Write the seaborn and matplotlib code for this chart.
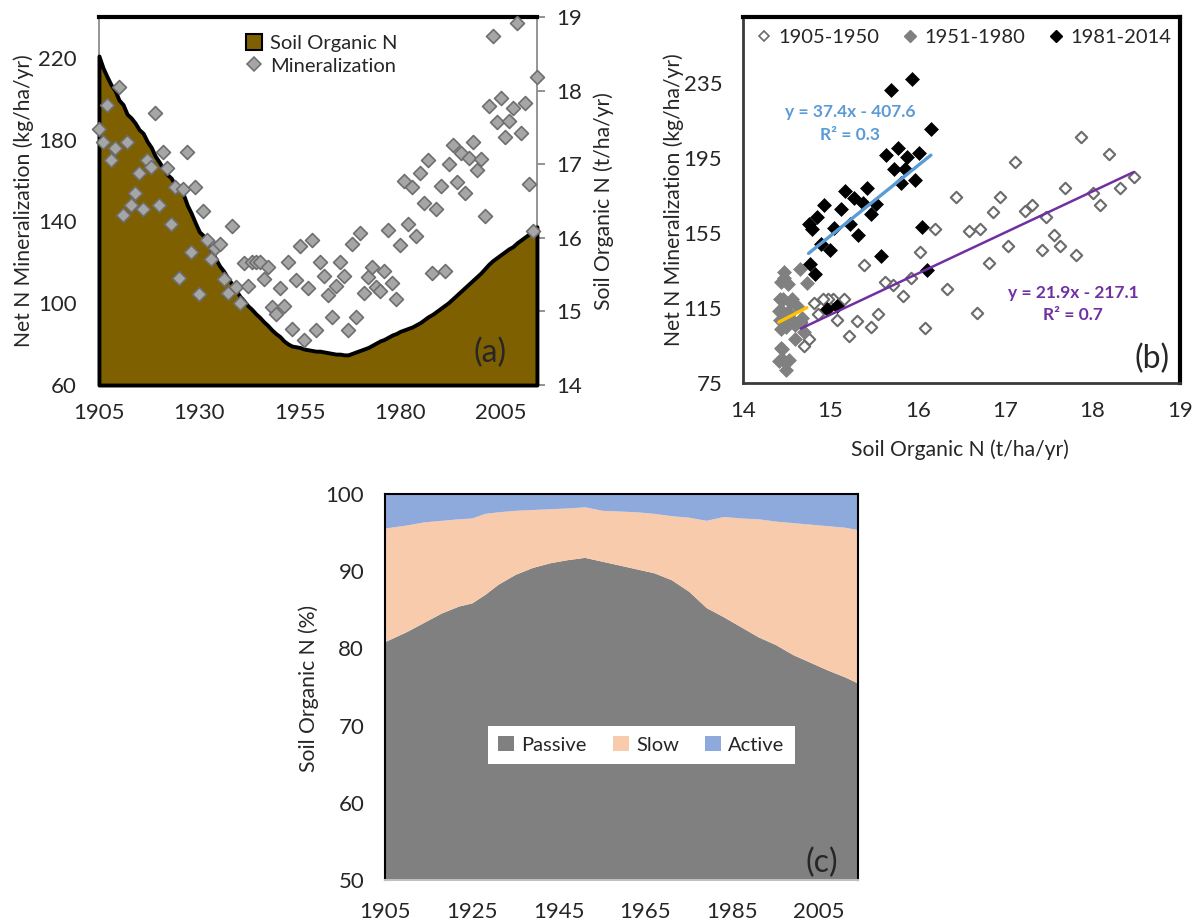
import numpy as np
import pandas as pd
import matplotlib
matplotlib.use("Agg")
import matplotlib.pyplot as plt
import seaborn as sns
from matplotlib.patches import Patch
from matplotlib.lines import Line2D

# ---------------------------------------------------------------- data
years = np.arange(1905, 2015)

# soil organic N stock (t/ha/yr), one value per year 1905-2014
soil_organic_n = [
    18.47, 18.31, 18.19, 18.08, 18.00, 17.87, 17.81, 17.68, 17.63, 17.56,
    17.47, 17.42, 17.31, 17.23, 17.11, 17.03, 16.94, 16.86, 16.81, 16.71,
    16.68, 16.59, 16.44, 16.33, 16.20, 16.08, 16.03, 15.92, 15.83, 15.72,
    15.62, 15.55, 15.46, 15.38, 15.30, 15.21, 15.15, 15.08, 15.03, 14.97,
    14.92, 14.86, 14.81, 14.75, 14.70, 14.66, 14.60, 14.56, 14.53, 14.52,
    14.51, 14.49, 14.48, 14.47, 14.46, 14.46, 14.45, 14.44, 14.43, 14.42,
    14.42, 14.41, 14.41, 14.43, 14.45, 14.47, 14.49, 14.51, 14.54, 14.57,
    14.60, 14.62, 14.65, 14.68, 14.70, 14.73, 14.75, 14.77, 14.79, 14.82,
    14.85, 14.89, 14.93, 14.96, 15.00, 15.04, 15.08, 15.12, 15.17, 15.22,
    15.27, 15.32, 15.37, 15.42, 15.47, 15.52, 15.58, 15.64, 15.69, 15.73,
    15.77, 15.81, 15.85, 15.88, 15.93, 15.97, 16.01, 16.05, 16.10, 16.15,
]

# net N mineralization (kg/ha/yr), one value per year 1905-2014
mineralization = [
    185, 179, 197, 170, 176, 206, 143, 179, 148, 154,
    163.5, 146, 170, 166.5, 193, 148, 174, 166, 139, 157,
    112.5, 156, 174, 125, 157, 104.5, 145, 131, 121.5, 127,
    129, 112, 105, 138, 108, 100, 119.7, 108.5, 120, 120,
    120, 112, 117.5, 98.3, 94.6, 107.3, 98.6, 120, 87.5, 111.4,
    128, 82, 107.3, 131, 87, 120, 113.3, 104, 93.4, 108.4,
    120, 113.3, 86.9, 129, 93.1, 134.2, 104.8, 112.7, 117.9, 108.1,
    106.1, 115.8, 135.8, 109.8, 102.1, 128.5, 159.9, 138.6, 157, 133,
    163.5, 148.8, 170.1, 114.6, 146.1, 157.5, 115.8, 167.9, 177.4, 159.5,
    173.3, 153.7, 170.9, 179, 165.1, 170.6, 142.8, 196.7, 230.9, 188.8,
    200.3, 181.5, 189.2, 195.4, 237, 183.1, 197.8, 158.3, 135.3, 210.5,
]

# periods and their linear trends (slope, intercept, R2)
period_labels = ["1905-1950", "1951-1980", "1981-2014"]
period_start = [1905, 1951, 1981]
period_end = [1950, 1980, 2014]
trend_slope = [21.9, 24.2, 37.4]
trend_intercept = [-217.1, -241.3, -407.6]
trend_r2 = [0.7, None, 0.3]

# soil organic N pools (% of total)
pool_years = [1905, 1910, 1914, 1918, 1922, 1925, 1928, 1931, 1935, 1939,
              1943, 1947, 1951, 1955, 1959, 1963, 1967, 1971, 1975, 1979,
              1983, 1987, 1991, 1995, 1999, 2003, 2007, 2011, 2014]
passive = [80.9, 82.2, 83.4, 84.6, 85.5, 85.9, 87.0, 88.3, 89.6, 90.5,
           91.1, 91.5, 91.8, 91.3, 90.8, 90.3, 89.8, 88.9, 87.4, 85.3,
           84.1, 82.8, 81.5, 80.5, 79.2, 78.2, 77.2, 76.3, 75.5]
slow = [14.7, 13.8, 13.0, 12.0, 11.3, 11.0, 10.5, 9.4, 8.3, 7.5,
        7.0, 6.7, 6.55, 6.6, 7.0, 7.4, 7.7, 8.3, 9.6, 11.3,
        13.0, 14.1, 15.3, 16.0, 17.1, 17.9, 18.7, 19.4, 19.9]
active = [4.4, 4.0, 3.6, 3.4, 3.2, 3.1, 2.5, 2.3, 2.1, 2.0,
          1.9, 1.8, 1.65, 2.1, 2.2, 2.3, 2.5, 2.8, 3.0, 3.4,
          2.9, 3.1, 3.2, 3.5, 3.7, 3.9, 4.1, 4.3, 4.6]
pool_labels = ["Passive", "Slow", "Active"]

# ---------------------------------------------------------------- style
sns.set_theme(style="white")
plt.rcParams["font.family"] = ["Lato", "DejaVu Sans"]
plt.rcParams["font.size"] = 14

BROWN = "#7F6000"
DIAMOND_FACE = "#A6A6A6"
DIAMOND_EDGE = "#6E6E6E"
TREND_COLORS = ["#7030A0", "#FFC000", "#5B9BD5"]
POOL_COLORS = ["#808080", "#F8CBAD", "#8EA9DB"]
TICK_FS = 16
LABEL_FS = 15.2
LEGEND_FS = 14.5

df = pd.DataFrame({"year": years, "son": soil_organic_n, "min": mineralization})

fig = plt.figure(figsize=(11.98, 9.24), dpi=100)

# ---------------------------------------------------------------- (a)
ax_a = fig.add_axes([0.0826, 0.5833, 0.3656, 0.3983])
ax_a2 = ax_a.twinx()

ax_a2.fill_between(df["year"], df["son"], 14, facecolor=BROWN,
                   edgecolor="black", linewidth=2.8, zorder=3, clip_on=False)
ax_a2.set_ylim(14, 19)
ax_a2.set_yticks([14, 15, 16, 17, 18, 19])
ax_a2.set_ylabel("Soil Organic N (t/ha/yr)", fontsize=LABEL_FS, rotation=90)
ax_a2.yaxis.set_label_coords(1.128, 0.5)
ax_a2.tick_params(axis="y", which="major", direction="out", length=6,
                  width=1.2, color="#808080", right=True, pad=8,
                  labelsize=TICK_FS)
for side in ["left", "bottom", "right"]:
    ax_a2.spines[side].set_color("#8C8C8C")
    ax_a2.spines[side].set_linewidth(1.3)
ax_a2.spines["top"].set_color("black")
ax_a2.spines["top"].set_linewidth(3)

ax_a.set_zorder(ax_a2.get_zorder() + 1)
ax_a.patch.set_visible(False)
sns.scatterplot(data=df, x="year", y="min", ax=ax_a, marker="D", s=50,
                color=DIAMOND_FACE, edgecolor=DIAMOND_EDGE, linewidth=1.2,
                clip_on=False, zorder=4)
ax_a.set_xlim(1905, 2014)
ax_a.set_ylim(60, 240)
ax_a.set_yticks([60, 100, 140, 180, 220])
ax_a.set_xticks([1905, 1930, 1955, 1980, 2005])
ax_a.set_xlabel("")
ax_a.set_ylabel("Net N Mineralization (kg/ha/yr)", fontsize=LABEL_FS)
ax_a.yaxis.set_label_coords(-0.148, 0.5)
ax_a.tick_params(axis="both", length=0, labelsize=TICK_FS)
ax_a.tick_params(axis="y", pad=16)
ax_a.tick_params(axis="x", pad=13)
for side in ax_a.spines:
    ax_a.spines[side].set_visible(False)

ax_a.legend(
    handles=[Patch(facecolor=BROWN, edgecolor="black", linewidth=1.5,
                   label="Soil Organic N"),
             Line2D([], [], marker="D", linestyle="none", markersize=7,
                    markerfacecolor=DIAMOND_FACE, markeredgecolor=DIAMOND_EDGE,
                    markeredgewidth=1.1, label="Mineralization")],
    loc="upper left", bbox_to_anchor=(0.318, 0.975), frameon=False,
    fontsize=LEGEND_FS, handlelength=0.8, handleheight=0.8,
    handletextpad=0.4, labelspacing=0.25, borderaxespad=0)
ax_a.text(0.893, 0.087, "(a)", transform=ax_a.transAxes, fontsize=23,
          ha="center", va="center", zorder=6)

# ---------------------------------------------------------------- (b)
ax_b = fig.add_axes([0.6202, 0.5855, 0.3648, 0.3961])
marker_styles = [
    dict(color="white", edgecolor="#6B6B6B", linewidth=1.5, s=34),
    dict(color="#808080", edgecolor="#808080", linewidth=0.5, s=50),
    dict(color="black", edgecolor="black", linewidth=0.5, s=50),
]
for label, y0, y1, style in zip(period_labels, period_start, period_end,
                                marker_styles):
    sub = df[(df["year"] >= y0) & (df["year"] <= y1)]
    sns.scatterplot(data=sub, x="son", y="min", ax=ax_b, marker="D",
                    label=label, zorder=3, **style)

for y0, y1, slope, intercept, color in zip(period_start, period_end,
                                           trend_slope, trend_intercept,
                                           TREND_COLORS):
    sub = df[(df["year"] >= y0) & (df["year"] <= y1)]
    xs = np.array([sub["son"].min(), sub["son"].max()])
    sns.lineplot(x=xs, y=slope * xs + intercept, ax=ax_b, color=color,
                 linewidth=2.4 if color != "#7030A0" else 1.8, zorder=4)

for slope, intercept, r2, color, pos in zip(
        trend_slope, trend_intercept, trend_r2, TREND_COLORS,
        [(0.756, 0.245, 0.186), None, (0.245, 0.740, 0.678)]):
    if r2 is None:
        continue
    x, y_eq, y_r2 = pos
    ax_b.text(x, y_eq, f"y = {slope:.1f}x - {abs(intercept):.1f}",
              transform=ax_b.transAxes, color=color, fontsize=12.5,
              fontweight="bold", ha="center", va="center")
    ax_b.text(x, y_r2, f"R² = {r2:.1f}", transform=ax_b.transAxes,
              color=color, fontsize=12.5, fontweight="bold",
              ha="center", va="center")

ax_b.set_xlim(14, 19)
ax_b.set_ylim(75, 270)
ax_b.set_xticks([14, 15, 16, 17, 18, 19])
ax_b.set_yticks([75, 115, 155, 195, 235])
ax_b.set_xlabel("Soil Organic N (t/ha/yr)", fontsize=LABEL_FS)
ax_b.set_ylabel("Net N Mineralization (kg/ha/yr)", fontsize=LABEL_FS)
ax_b.xaxis.set_label_coords(0.497, -0.155)
ax_b.yaxis.set_label_coords(-0.135, 0.5)
ax_b.tick_params(axis="both", length=0, labelsize=TICK_FS)
ax_b.tick_params(axis="y", pad=15)
ax_b.tick_params(axis="x", pad=13)
for side, lw, col in [("top", 3, "black"), ("right", 3, "black"),
                      ("left", 2, "#3A3A3A"), ("bottom", 2, "#3A3A3A")]:
    ax_b.spines[side].set_linewidth(lw)
    ax_b.spines[side].set_color(col)
    ax_b.spines[side].set_visible(True)

legend_handles_b = [
    Line2D([], [], marker="D", linestyle="none", markersize=5.5,
           markerfacecolor="white", markeredgecolor="#6B6B6B",
           markeredgewidth=1.2),
    Line2D([], [], marker="D", linestyle="none", markersize=6,
           markerfacecolor="#808080", markeredgecolor="#808080"),
    Line2D([], [], marker="D", linestyle="none", markersize=6,
           markerfacecolor="black", markeredgecolor="black"),
]
ax_b.legend(legend_handles_b, period_labels, loc="center",
            bbox_to_anchor=(0.506, 0.945), ncol=3, frameon=False,
            fontsize=LEGEND_FS, handlelength=0.7, handletextpad=0.35,
            columnspacing=1.2, borderaxespad=0)
ax_b.text(0.935, 0.067, "(b)", transform=ax_b.transAxes, fontsize=23,
          ha="center", va="center")

# ---------------------------------------------------------------- (c)
ax_c = fig.add_axes([0.3214, 0.0476, 0.3948, 0.4177])
ax_c.stackplot(pool_years, passive, slow, active, colors=POOL_COLORS,
               labels=pool_labels, linewidth=0)
ax_c.set_xlim(1905, 2014)
ax_c.set_ylim(50, 100)
ax_c.set_xticks([1905, 1925, 1945, 1965, 1985, 2005])
ax_c.set_yticks([50, 60, 70, 80, 90, 100])
ax_c.set_ylabel("Soil Organic N (%)", fontsize=LABEL_FS)
ax_c.yaxis.set_label_coords(-0.140, 0.497)
ax_c.tick_params(axis="both", length=0, labelsize=TICK_FS)
ax_c.tick_params(axis="y", pad=15)
ax_c.tick_params(axis="x", pad=16)
for side in ax_c.spines:
    ax_c.spines[side].set_color("black")
    ax_c.spines[side].set_linewidth(1.5)
    ax_c.spines[side].set_visible(True)
ax_c.spines["bottom"].set_color("#BFBFBF")
legend_c = ax_c.legend(
    handles=[Patch(facecolor=c, edgecolor="none", label=l)
             for c, l in zip(POOL_COLORS, pool_labels)],
    loc="center", bbox_to_anchor=(0.542, 0.35), ncol=3, fontsize=LEGEND_FS,
    frameon=True, fancybox=False, framealpha=1, edgecolor="white",
    handlelength=0.8, handleheight=0.8, handletextpad=0.35,
    columnspacing=1.3, borderpad=0.5)
legend_c.get_frame().set_linewidth(0)
ax_c.text(0.923, 0.043, "(c)", transform=ax_c.transAxes, fontsize=23,
          ha="center", va="center")

fig.savefig("out.png", dpi=100, facecolor="white")
